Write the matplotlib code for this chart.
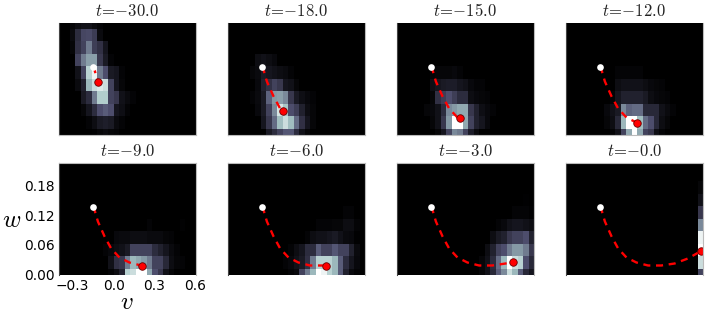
import numpy as np
import matplotlib
matplotlib.use('Agg')
import matplotlib.pyplot as plt

plt.rcParams['mathtext.fontset'] = 'cm'

times = ['-30.0', '-18.0', '-15.0', '-12.0', '-9.0', '-6.0', '-3.0', '-0.0']

# density per panel in percent, top row first, trailing zeros left out
density_30 = [
    [0, 0, 3, 6, 8, 8, 5, 2],
    [0, 0, 5, 20, 32, 33, 27, 5],
    [0, 0, 3, 22, 30, 50, 28, 22, 10],
    [0, 0, 0, 30, 50, 62, 62, 25, 12, 2],
    [0, 0, 0, 8, 30, 80, 95, 50, 35, 12, 10, 2],
    [0, 0, 0, 5, 15, 70, 85, 90, 85, 30, 10, 3],
    [0, 0, 0, 0, 12, 20, 50, 78, 78, 30, 25, 8, 5, 2],
    [0, 0, 0, 0, 3, 10, 20, 35, 40, 35, 10, 7, 2],
    [0, 0, 0, 0, 0, 2, 6, 12, 14, 12, 5, 2],
    [0, 0, 0, 0, 0, 0, 1, 3, 5, 3, 2],
]
density_18 = [
    [],
    [],
    [],
    [0, 0, 0, 0, 0, 6, 8, 6, 4],
    [0, 0, 0, 0, 3, 5, 12, 10, 8, 6, 5, 2],
    [0, 0, 0, 0, 0, 4, 15, 22, 30, 25, 10, 8, 3],
    [0, 0, 0, 0, 2, 5, 12, 42, 60, 62, 55, 25, 12, 7, 4, 2],
    [0, 0, 0, 0, 0, 4, 12, 30, 55, 88, 75, 35, 28, 15, 6, 3],
    [0, 0, 0, 0, 0, 0, 10, 25, 45, 72, 85, 72, 45, 22, 10, 3],
    [0, 0, 0, 0, 0, 0, 0, 12, 20, 30, 38, 38, 20, 8, 3],
]
density_15 = [
    [],
    [],
    [],
    [],
    [0, 0, 0, 0, 0, 0, 2, 3, 3, 3, 4, 2],
    [0, 0, 0, 0, 0, 0, 7, 10, 12, 13, 13, 10, 8, 4, 2, 2],
    [0, 0, 0, 0, 0, 0, 3, 22, 28, 35, 28, 20, 20, 6, 4, 3, 2],
    [0, 0, 0, 0, 0, 3, 4, 8, 20, 55, 60, 65, 65, 25, 15, 7, 4, 2],
    [0, 0, 0, 0, 0, 0, 3, 8, 25, 60, 100, 100, 65, 30, 15, 10, 4],
    [0, 0, 0, 0, 0, 0, 0, 3, 10, 30, 55, 50, 30, 13, 5],
]
density_12 = [
    [],
    [],
    [],
    [],
    [0, 0, 0, 0, 0, 0, 0, 0, 0, 2, 2, 2, 2, 2],
    [0, 0, 0, 0, 0, 0, 0, 0, 0, 6, 8, 8, 8, 8, 6, 4, 3, 2],
    [0, 0, 0, 0, 0, 0, 0, 0, 2, 10, 15, 15, 15, 15, 12, 6, 4, 3, 2],
    [0, 0, 0, 0, 0, 0, 0, 4, 8, 12, 55, 42, 45, 45, 18, 18, 18, 8, 5, 2],
    [0, 0, 0, 0, 0, 0, 0, 3, 6, 18, 70, 100, 100, 72, 45, 35, 18, 6, 3],
    [0, 0, 0, 0, 0, 0, 0, 0, 2, 8, 30, 65, 100, 65, 30, 25, 7, 2],
]
density_9 = [
    [],
    [],
    [],
    [],
    [],
    [0] * 16 + [2, 0, 0, 0, 0, 0, 1.5],
    [0] * 10 + [4, 5, 5, 6, 6, 6, 5, 5, 5, 3, 2],
    [0] * 8 + [2, 4, 6, 8, 12, 30, 30, 30, 30, 20, 15, 10, 5, 2],
    [0] * 9 + [8, 22, 25, 50, 70, 65, 60, 50, 30, 30, 18, 6, 3, 2],
    [0] * 9 + [2, 6, 15, 80, 85, 100, 100, 65, 35, 25, 8, 3],
]
density_6 = [
    [],
    [],
    [],
    [],
    [0] * 21 + [2, 2],
    [0] * 16 + [2, 2, 2, 3, 3, 6, 6, 2],
    [0] * 14 + [2, 6, 8, 8, 10, 12, 8, 5, 4, 1],
    [0] * 11 + [2, 6, 10, 20, 20, 40, 30, 30, 38, 30, 30, 15, 5],
    [0] * 10 + [2, 4, 8, 12, 22, 50, 80, 80, 80, 70, 40, 20, 10, 4],
    [0] * 11 + [2, 4, 30, 50, 70, 100, 95, 80, 70, 40, 15, 5, 2],
]
density_3 = [
    [],
    [],
    [],
    [0] * 23 + [1],
    [0] * 21 + [2, 2, 2, 1],
    [0] * 18 + [2, 4, 8, 10, 10, 8, 6],
    [0] * 17 + [6, 12, 15, 25, 30, 30, 35, 15],
    [0] * 16 + [6, 15, 30, 35, 50, 60, 60, 50, 25],
    [0] * 15 + [3, 8, 20, 45, 70, 100, 85, 80, 35, 18],
    [0] * 15 + [3, 8, 18, 40, 55, 85, 70, 40, 18, 10],
]
density_0 = [
    [],
    [],
    [0] * 24 + [3],
    [0] * 24 + [8],
    [0] * 24 + [25],
    [0] * 24 + [55],
    [0] * 24 + [95],
    [0] * 24 + [100],
    [0] * 24 + [85],
    [0] * 24 + [30],
]
densities = [density_30, density_18, density_15, density_12,
             density_9, density_6, density_3, density_0]

# mean path
path_v = [-0.145, -0.115, -0.066, -0.018, 0.043, 0.116, 0.201, 0.298, 0.396, 0.493, 0.59]
path_w = [0.135, 0.107, 0.077, 0.053, 0.035, 0.025, 0.019, 0.019, 0.023, 0.033, 0.048]
start_v = -0.15
start_w = 0.137
end_v = [-0.115, 0.004, 0.058, 0.123, 0.208, 0.32, 0.453, 0.59]
end_w = [0.107, 0.048, 0.035, 0.025, 0.019, 0.019, 0.027, 0.048]

xticks = [-0.3, 0.0, 0.3, 0.6]
yticks = [0.0, 0.06, 0.12, 0.18]

W, H = 709, 314
lefts = [59, 228, 397, 566]
tops = [23, 163]
pw, ph = 136.5, 112

fig = plt.figure(figsize=(W / 100, H / 100), dpi=100)
for i, t in enumerate(times):
    x0 = lefts[i % 4]
    y0 = tops[i // 4]
    ax = fig.add_axes([x0 / W, 1 - (y0 + ph) / H, pw / W, ph / H])

    grid = np.zeros((10, 25))
    for r, row in enumerate(densities[i]):
        grid[r, :len(row)] = row
    ax.imshow(grid / 100, cmap='bone', vmin=0, vmax=1, aspect='auto', origin='upper',
              interpolation='nearest', extent=(-0.4, 0.6, -0.0125, 0.2375))

    before = np.array(path_v) < end_v[i]
    line_v = np.r_[start_v, np.array(path_v)[before], end_v[i]]
    line_w = np.r_[start_w, np.array(path_w)[before], end_w[i]]
    ax.plot(line_v, line_w, color='red', lw=1.7, dashes=(3, 2.4))
    ax.plot([start_v], [start_w], 'o', color='white', ms=4.8, mew=0)
    ax.plot([end_v[i]], [end_w[i]], 'o', color='red', mec='#660000', ms=5.4, mew=0.6)

    ax.set_xlim(-0.4, 0.6)
    ax.set_ylim(0, 0.224)
    ax.set_title(r'$t\!=\!{-}' + t[1:] + '$', fontsize=12, pad=5, color='#222222')
    for s in ax.spines.values():
        s.set_color('#bbbbbb')
        s.set_linewidth(0.8)
    ax.spines['left'].set_color('#444444')
    # the grey edge only shows on the inner side of each row
    ax.spines['top' if i < 4 else 'bottom'].set_visible(False)
    ax.tick_params(length=0, labelsize=9.9, pad=3)
    if i == 4:
        ax.set_xticks(xticks, ['\u22120.3', '0.0', '0.3', '0.6'])
        ax.set_yticks(yticks, ['0.00', '0.06', '0.12', '0.18'])
        ax.set_xlabel('$v$', fontsize=18, labelpad=-2)
        ax.set_ylabel('$w$', fontsize=18, rotation=0, labelpad=9, va='center', y=0.49)
    else:
        ax.set_xticks([])
        ax.set_yticks([])

fig.savefig('out.png', dpi=100)
